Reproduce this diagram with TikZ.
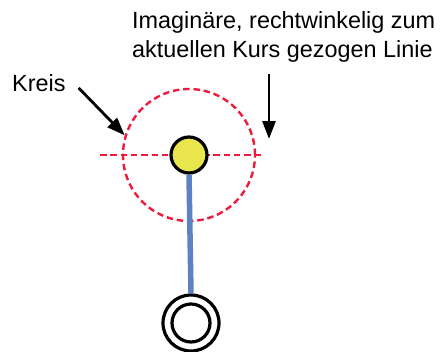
\documentclass[tikz,border=0pt]{standalone}
\usepackage{fontspec}
\setmainfont{Liberation Sans}
\usetikzlibrary{arrows.meta}
\definecolor{kreisrot}{RGB}{237,28,60}
\definecolor{bootgelb}{RGB}{232,230,76}
\definecolor{kursblau}{RGB}{92,130,196}
\begin{document}
\begin{tikzpicture}[x=1pt,y=-1pt,>={Triangle[length=18pt,width=13pt]},
    lbl/.style={font=\fontsize{23.4}{29}\selectfont,inner sep=0pt,align=left},
    rot/.style={draw=kreisrot,line width=2.4pt,dash pattern=on 6.5pt off 3.8pt},
    pfeil/.style={->,line width=2.8pt}]
  \useasboundingbox (0,0) rectangle (444,351);
  \node[rot,circle,minimum size=132pt,inner sep=0pt] (kreis) at (189,155) {};
  \coordinate (hl) at (100,155);
  \coordinate (hr) at (264,155);
  \draw[rot] (hl) -- (hr);
  \node[circle,draw,line width=3.2pt,fill=bootgelb,minimum size=36pt,inner sep=0pt] (boot) at (189,155) {};
  \node[circle,draw,line width=3.2pt,minimum size=56pt,inner sep=0pt] (ziel) at (191,323) {};
  \node[circle,draw,line width=3.2pt,minimum size=38pt,inner sep=0pt] (zielin) at (191,323) {};
  \draw[kursblau,line width=5.5pt] (boot.south) -- (ziel.north);
  \node[lbl,anchor=west] (tkreis) at (12,83) {Kreis};
  \node[lbl,anchor=north west] (tlinie) at (132,11) {Imaginäre, rechtwinkelig zum\\aktuellen Kurs gezogen Linie};
  \coordinate (lstart) at (269,74);
  \coordinate (lend) at (269,139);
  \draw[pfeil] (tkreis.east) ++(13,5) -- (kreis.163);
  \draw[pfeil] (lstart) -- (lend);
\end{tikzpicture}
\end{document}
